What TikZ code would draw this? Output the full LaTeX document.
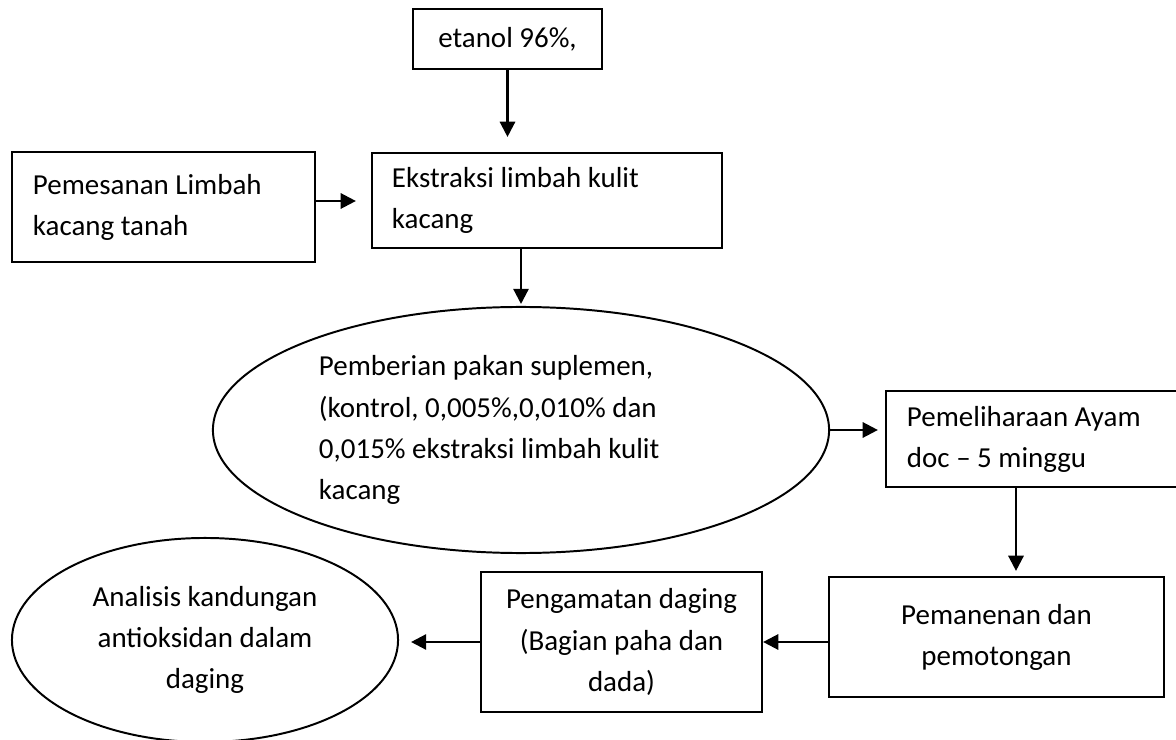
\documentclass[tikz,border=0pt]{standalone}
\usepackage{fontspec}
\setmainfont{Carlito}
\usepackage{tikz}
\usetikzlibrary{calc}
\usetikzlibrary{arrows.meta}
\usetikzlibrary{shapes.geometric}
\tikzset{>={Triangle[length=0.38cm,width=0.38cm]}}
\tikzset{
  stepbox/.style={draw, rectangle, line width=1.5pt, inner sep=0pt, font=\fontsize{20.6}{29.2}\selectfont},
  stepoval/.style={draw, ellipse, line width=1.4pt, inner sep=0pt, font=\fontsize{20.6}{29.2}\selectfont},
  flow/.style={->, line width=1.7pt}
}

\begin{document}
\begin{tikzpicture}[x=0.025cm,y=-0.025cm]
            \useasboundingbox (0,0) rectangle (1176,740);

            \node[stepbox, minimum width=4.725cm, minimum height=1.5cm, align=center] (etanol) at (507.5,39) {etanol 96\%,};
            \node[stepbox, minimum width=7.575cm, minimum height=2.75cm, text width=6.525cm, align=flush left] (pesan) at (163.5,207) {Pemesanan Limbah\\kacang tanah};
            \node[stepbox, minimum width=8.75cm, minimum height=2.375cm, text width=7.75cm, align=flush left] (ekstr) at (547,200.5) {Ekstraksi limbah kulit\\kacang};
            \node[stepoval, minimum width=15.4cm, minimum height=6.15cm, text width=10.1cm, align=flush left] (pakan) at (521,430) {Pemberian pakan suplemen,\\(kontrol, 0,005\%,0,010\% dan\\0,015\% ekstraksi limbah kulit\\kacang};
            \node[stepbox, minimum width=7.3cm, minimum height=2.4cm, text width=6.25cm, align=flush left] (pelihara) at (1032,439) {Pemeliharaan Ayam\\doc -- 5 minggu};
            \node[stepbox, minimum width=8.375cm, minimum height=3cm, align=center] (panen) at (996.5,637) {Pemanenan dan\\pemotongan};
            \node[stepbox, minimum width=7.025cm, minimum height=3.5cm, align=center] (amati) at (621.5,642) {Pengamatan daging\\(Bagian paha dan\\dada)};
            \node[stepoval, minimum width=9.65cm, minimum height=5.1cm, align=center] (analisis) at (205,640) {Analisis kandungan\\antioksidan dalam\\daging};

            \draw[flow, shorten >=0.375cm] (etanol.south) -- (etanol.south |- ekstr.north);
            \draw[flow, shorten >=0.375cm] (pesan.east |- 0,201) -- (ekstr.west |- 0,201);
            \draw[flow, shorten >=0.05cm] (ekstr.south -| pakan.north) -- (pakan.north);
            \draw[flow, shorten >=0.175cm] (pakan.east) -- (pakan.east -| pelihara.west);
            \draw[flow, shorten >=0.125cm] ([xshift=-0.4cm]pelihara.south) -- ([xshift=-0.4cm]pelihara.south |- panen.north);
            \draw[flow] (amati.east -| panen.west) -- (amati.east);
            \draw[flow, shorten >=0.3cm] (amati.west) -- (amati.west -| analisis.east);

        \end{tikzpicture}
\end{document}
